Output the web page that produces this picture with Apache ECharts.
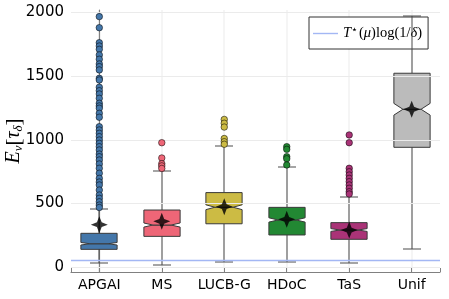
<!DOCTYPE html>
<html>
<head>
<meta charset="utf-8">
<script src="https://cdn.jsdelivr.net/npm/echarts@6/dist/echarts.min.js"></script>
<style>html,body{margin:0;padding:0;background:#fff;}#c{width:449px;height:299px;}</style>
</head>
<body>
<div id="c"></div>
<script>
// ---- data ----
const categories = ['APGAI', 'MS', 'LUCB-G', 'HDoC', 'TaS', 'Unif'];
const boxColors = ['#4477AA', '#EE6677', '#CCBB44', '#228833', '#AA3377', '#BBBBBB'];
const lowerWhisker = [29, 16, 42, 37, 29, 145];
const q1 = [139, 241, 340, 252, 218, 941];
const median = [183, 330, 470, 370, 291, 1240];
const q3 = [265, 448, 585, 469, 349, 1523];
const upperWhisker = [453, 757, 951, 789, 553, 1973];
const notchHalf = [10, 16, 19, 17, 11, 46];
const means = [333, 359, 474, 375, 291, 1240];
const outliersAPGAI = [1968, 1881, 1763, 1737, 1711, 1667, 1633, 1596, 1575, 1549, 1483, 1470, 1413, 1386, 1360, 1326, 1287, 1266, 1248, 1208, 1177, 1103, 1077, 1051, 1025, 998, 972, 946, 920, 888, 867, 841, 810, 776, 737, 697, 668, 645, 605, 566, 540, 513, 487, 468];
const outliersMS = [977, 857, 812, 795, 775];
const outliersLUCBG = [1160, 1130, 1100, 1010, 985, 965];
const outliersHDoC = [946, 925, 867, 851, 802];
const outliersTaS = [1038, 977, 776, 749, 723, 697, 671, 645, 619, 592, 574];
const outliersUnif = [];
const outliers = [outliersAPGAI, outliersMS, outliersLUCBG, outliersHDoC, outliersTaS, outliersUnif];
const threshold = 55;
const yTicks = [0, 500, 1000, 1500, 2000];
const yMin = -39, yMax = 2020;
const xMin = -0.453, xMax = 5.453;

// ---- chart ----
const chart = echarts.init(document.getElementById('c'), null, {renderer: 'canvas'});
const boxData = categories.map((c, i) => [i, lowerWhisker[i], q1[i], median[i], q3[i], upperWhisker[i], notchHalf[i]]);
const gridColor = '#ebebeb';
const edge = '#3a3a3a';
const lineCol = '#a3b7f4';
const whiskerCol = '#4a4a4a';

function vRect(cx, ya, yb, fill) {
  const top = Math.min(ya, yb), h = Math.abs(yb - ya);
  return {type: 'rect', shape: {x: cx - 0.5, y: top, width: 1, height: h}, style: {fill: fill}};
}
function hRect(x1, x2, yv, fill) {
  return {type: 'rect', shape: {x: x1, y: yv - 0.5, width: x2 - x1, height: 1}, style: {fill: fill}};
}

function renderBox(params, api) {
  const x = api.value(0);
  const lo = api.value(1), b1 = api.value(2), md = api.value(3), b3 = api.value(4), hi = api.value(5), n = api.value(6);
  const cx = Math.round(api.coord([x, md])[0]);
  const band = api.size([1, 0])[0];
  const hw = band * 0.29, HW = hw * 0.5, L = hw * 0.5;
  const y = v => api.coord([x, v])[1];
  const yc = v => Math.round(api.coord([x, v])[1]);
  const color = boxColors[params.dataIndex];
  const bs = {fill: color, stroke: edge, lineWidth: 1};
  return {type: 'group', children: [
    vRect(cx, yc(lo), y(b1), whiskerCol),
    hRect(cx - HW, cx + HW, yc(lo), whiskerCol),
    vRect(cx, y(b3), yc(hi), whiskerCol),
    hRect(cx - HW, cx + HW, yc(hi), whiskerCol),
    {type: 'polygon', shape: {points: [[cx - hw, y(b1)], [cx - hw, y(md - n)], [cx - L, y(md)], [cx + L, y(md)], [cx + hw, y(md - n)], [cx + hw, y(b1)]]}, style: bs},
    {type: 'polygon', shape: {points: [[cx - hw, y(b3)], [cx - hw, y(md + n)], [cx - L, y(md)], [cx + L, y(md)], [cx + hw, y(md + n)], [cx + hw, y(b3)]]}, style: bs}
  ]};
}

function renderVGrid(params, api) {
  const x = api.value(0);
  const cx = Math.round(api.coord([x, yMin])[0]);
  return vRect(cx, api.coord([x, yMin])[1], api.coord([x, yMax])[1], gridColor);
}

const legendName = 'T*(mu)log(1/delta)';
const series = [
  {
    type: 'custom', name: 'vgrid', renderItem: renderVGrid, data: categories.map((c, i) => [i]),
    z: 0, silent: true, animation: false
  },
  {
    type: 'line', name: 'grid', data: [], symbol: 'none', silent: true, z: 0,
    markLine: {silent: true, symbol: 'none', label: {show: false}, animation: false,
      lineStyle: {color: gridColor, width: 1, type: 'solid'},
      data: yTicks.map(v => ({yAxis: v}))}
  },
  {
    type: 'line', name: legendName, data: [], symbol: 'none',
    color: lineCol, lineStyle: {color: lineCol, width: 1.3},
    markLine: {silent: true, symbol: 'none', label: {show: false}, animation: false,
      lineStyle: {color: lineCol, width: 1.3, type: 'solid'},
      data: [{yAxis: threshold}]}, z: 3
  },
  {type: 'custom', name: 'boxes', renderItem: renderBox, data: boxData, z: 4, animation: false}
];
outliers.forEach((arr, i) => {
  series.push({
    type: 'scatter', name: 'out' + i, data: arr.map(v => [i, v]), symbol: 'circle', symbolSize: 6.5,
    itemStyle: {color: boxColors[i], borderColor: 'rgba(0,0,0,0.75)', borderWidth: 0.7, opacity: 1}, z: 5, animation: false
  });
});
series.push({
  type: 'scatter', name: 'mean', data: means.map((v, i) => [i, v]),
  symbol: 'path://M0,-10 L2.8,-2.8 L10,0 L2.8,2.8 L0,10 L-2.8,2.8 L-10,0 L-2.8,-2.8 Z',
  symbolSize: 17, itemStyle: {color: '#000'}, z: 6, animation: false
});

chart.setOption({
  animation: false,
  backgroundColor: '#fff',
  grid: {left: 71, right: 9, top: 10, bottom: 27, containLabel: false, outerBoundsMode: 'none'},
  legend: {
    data: [{name: legendName, icon: 'rect'}], left: 309, top: 17, orient: 'vertical',
    backgroundColor: '#fff', borderColor: '#333', borderWidth: 1, borderRadius: 0,
    padding: [8, 6, 8, 4], itemWidth: 25, itemHeight: 1.4, itemGap: 4,
    formatter: () => '{i|T}{sup|⋆}{r|(}{i|μ}{r|)log(1/}{i|δ}{r|)}',
    textStyle: {
      fontFamily: 'Liberation Serif', fontSize: 14, color: '#000', padding: [0, 0, 0, 0],
      rich: {
        i: {fontFamily: 'Liberation Serif', fontStyle: 'italic', fontSize: 14.5, color: '#000'},
        r: {fontFamily: 'Liberation Serif', fontSize: 14.5, color: '#000'},
        sup: {fontFamily: 'DejaVu Sans', fontSize: 11, color: '#000', padding: [0, 1, 6, 0]}
      }
    }
  },
  xAxis: {
    type: 'value', min: xMin, max: xMax,
    axisLine: {show: true, onZero: false, lineStyle: {color: '#808080', width: 1.2}},
    axisTick: {show: true, inside: true, length: 4, lineStyle: {color: '#808080'}},
    splitLine: {show: false},
    axisLabel: {
      show: true, margin: 6, color: '#000', fontFamily: 'DejaVu Sans', fontSize: 14,
      formatter: v => (Number.isInteger(v) && categories[v] !== undefined) ? categories[v] : ''
    }
  },
  yAxis: {
    type: 'value', min: yMin, max: yMax, splitNumber: 4,
    name: '{i|E}{sub|ν}{r|[}{i|τ}{sub|δ}{r|]}', nameLocation: 'middle', nameGap: 46,
    nameMoveOverlap: false,
    nameTextStyle: {
      color: '#000',
      rich: {
        i: {fontFamily: 'Liberation Serif', fontStyle: 'italic', fontSize: 20, color: '#000'},
        r: {fontFamily: 'Liberation Serif', fontSize: 21, color: '#000'},
        sub: {fontFamily: 'Liberation Serif', fontStyle: 'italic', fontSize: 13, color: '#000', padding: [9, 0, 0, 0]}
      }
    },
    axisLine: {show: true, lineStyle: {color: '#808080', width: 1.2}},
    axisTick: {show: true, inside: true, length: 4, lineStyle: {color: '#808080'}},
    splitLine: {show: false},
    axisLabel: {
      show: true, margin: 7, color: '#000', fontFamily: 'DejaVu Sans', fontSize: 15,
      showMinLabel: false, showMaxLabel: false,
      formatter: v => yTicks.includes(v) ? String(v) : ''
    }
  },
  series: series
});
</script>
</body>
</html>
